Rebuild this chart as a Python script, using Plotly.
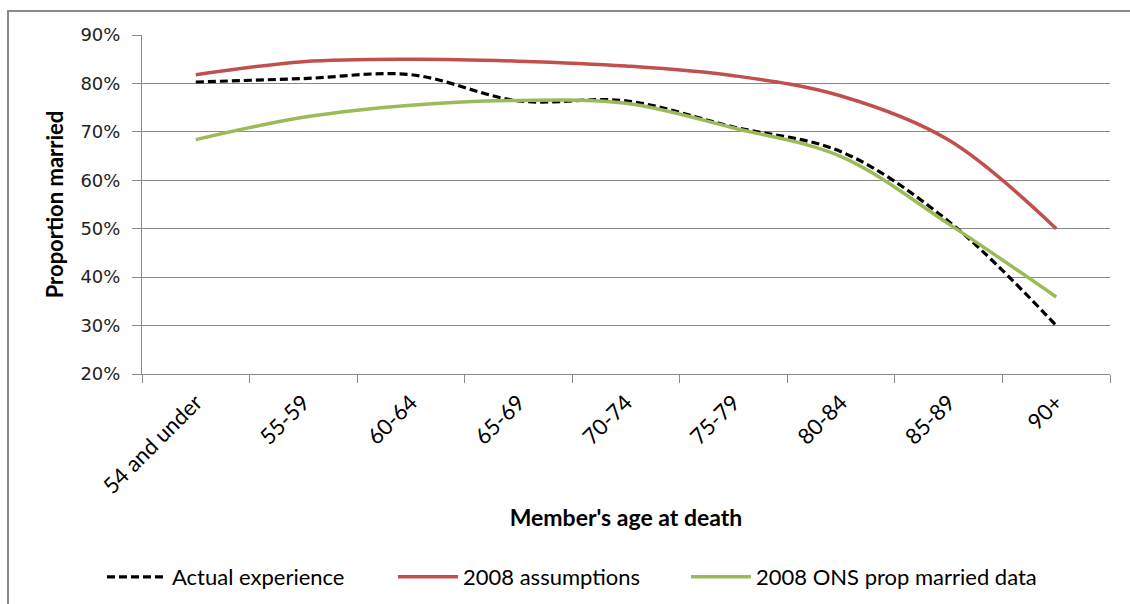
import plotly.graph_objects as go

# Age bands at death and proportion married (%) for each series
age_bands = ["54 and under", "55-59", "60-64", "65-69", "70-74",
             "75-79", "80-84", "85-89", "90+"]
actual_experience = [80.3, 81.0, 81.8, 76.4, 76.4, 71.0, 65.9, 51.5, 30.0]
assumptions_2008 = [81.8, 84.5, 85.0, 84.6, 83.6, 81.6, 77.4, 68.3, 50.0]
ons_married_2008 = [68.4, 73.0, 75.5, 76.5, 75.9, 70.8, 64.9, 51.0, 35.9]

y_ticks = [20, 30, 40, 50, 60, 70, 80, 90]
y_tick_labels = ["20%", "30%", "40%", "50%", "60%", "70%", "80%", "90%"]

W, H = 1130, 604
L, R, T, B = 142, 20, 35, 230
pw, ph = W - L - R, H - T - B


def px_x(p):
    """Pixel column -> paper x."""
    return (p - L) / pw


def px_y(p):
    """Pixel row -> paper y."""
    return (H - B - p) / ph


label_font = "Lato, Calibri, Carlito, sans-serif"
grid = "#8a8a8a"

fig = go.Figure()
fig.add_trace(go.Scatter(
    x=age_bands, y=actual_experience, name="Actual experience",
    mode="lines", legend="legend",
    line=dict(color="#000000", width=3.2, dash="8px,4px",
              shape="spline", smoothing=1.0)))
fig.add_trace(go.Scatter(
    x=age_bands, y=assumptions_2008, name="2008 assumptions",
    mode="lines", legend="legend2",
    line=dict(color="#C0504D", width=3.5, shape="spline", smoothing=1.0)))
fig.add_trace(go.Scatter(
    x=age_bands, y=ons_married_2008, name="2008 ONS prop married data",
    mode="lines", legend="legend3",
    line=dict(color="#9BBB59", width=3.5, shape="spline", smoothing=1.0)))

# Outer chart frame
fig.add_shape(type="rect", xref="paper", yref="paper",
              x0=px_x(8), x1=px_x(W + 10), y0=px_y(H + 10), y1=px_y(11),
              line=dict(color="#8a8a8a", width=2), fillcolor="rgba(0,0,0,0)",
              layer="below")

# Legend entries placed in container coordinates so they do not push margins
legend_common = dict(orientation="h", xref="container", yref="container",
                     xanchor="left", yanchor="middle",
                     y=1 - 577 / H, itemwidth=60,
                     font=dict(family=label_font, size=22, color="#000000"),
                     bgcolor="rgba(0,0,0,0)")

fig.update_layout(
    width=W, height=H,
    margin=dict(l=L, r=R, t=T, b=B, pad=0),
    plot_bgcolor="white", paper_bgcolor="white",
    showlegend=True,
    legend=dict(x=102 / W, **legend_common),
    legend2=dict(x=393 / W, **legend_common),
    legend3=dict(x=686 / W, **legend_common),
    xaxis=dict(
        type="category", range=[-0.5, 8.5], tickson="boundaries",
        ticks="outside", ticklen=8, tickcolor=grid,
        showline=True, linecolor=grid, linewidth=1,
        showgrid=False, tickangle=-45, ticklabelstandoff=6,
        tickfont=dict(family=label_font, size=22, color="#000000"),
        title=dict(text="<b>Member's age at death</b>", standoff=12,
                   font=dict(family=label_font, size=23, color="#000000")),
    ),
    yaxis=dict(
        range=[20, 90], tickvals=y_ticks, ticktext=y_tick_labels,
        ticks="outside", ticklen=9, tickcolor=grid, ticklabelstandoff=8,
        showline=True, linecolor=grid, linewidth=1,
        showgrid=True, gridcolor=grid, gridwidth=1, zeroline=False,
        tickfont=dict(family="DejaVu Sans, Verdana, sans-serif", size=18,
                      color="#222222"),
        title=dict(text="<b>Proportion married</b>", standoff=10,
                   font=dict(family=label_font, size=22, color="#000000")),
    ),
)

fig.write_html("out.html")
